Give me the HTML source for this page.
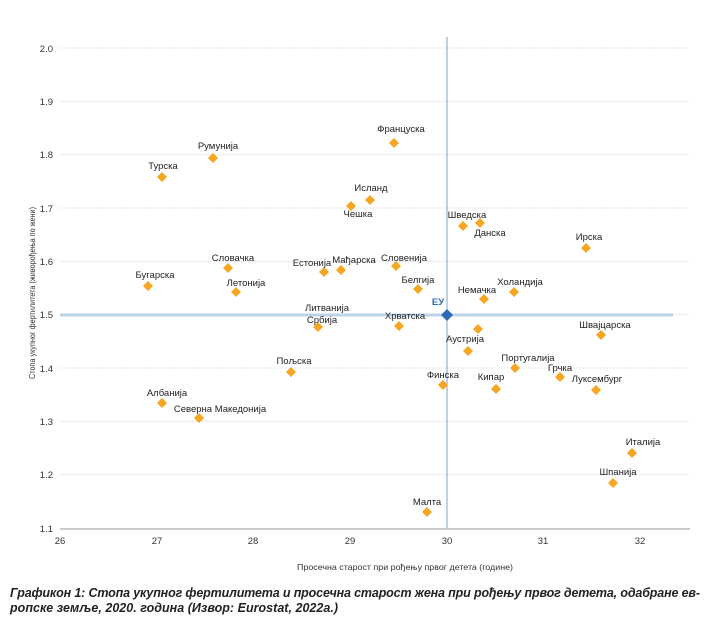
<!DOCTYPE html>
<html><head><meta charset="utf-8"><style>
html,body{margin:0;padding:0;background:#fff;}
svg{display:block;font-family:"Liberation Sans",Arial,sans-serif;}
.t{font-size:9.5px;fill:#222;text-anchor:middle;}
.tk{font-size:9.5px;fill:#333;}
.cap{font-size:12.5px;font-style:italic;font-weight:bold;fill:#222;}
</style></head><body>
<svg width="718" height="628" viewBox="0 0 718 628" xmlns="http://www.w3.org/2000/svg">
<defs><path id="d" d="M0,-5 L5,0 L0,5 L-5,0 Z" fill="#f5a623"/></defs>
<g stroke="#e0e0e0" stroke-width="0.8" stroke-dasharray="2,1">
<line x1="60" y1="48" x2="690" y2="48"/><line x1="60" y1="101.3" x2="690" y2="101.3"/>
<line x1="60" y1="154.7" x2="690" y2="154.7"/><line x1="60" y1="208" x2="690" y2="208"/>
<line x1="60" y1="261.3" x2="690" y2="261.3"/><line x1="60" y1="314.7" x2="690" y2="314.7"/>
<line x1="60" y1="368" x2="690" y2="368"/><line x1="60" y1="421.3" x2="690" y2="421.3"/>
<line x1="60" y1="474.7" x2="690" y2="474.7"/>
</g>
<line x1="60" y1="529" x2="690" y2="529" stroke="#999" stroke-width="1"/>
<line x1="60" y1="315" x2="673" y2="315" stroke="#bcd3e8" stroke-width="3"/>
<line x1="447" y1="37" x2="447" y2="528" stroke="#7fa3cc" stroke-width="1"/>
<g class="tk" text-anchor="end">
<text x="53" y="52">2.0</text><text x="53" y="105">1.9</text><text x="53" y="158">1.8</text>
<text x="53" y="212">1.7</text><text x="53" y="265">1.6</text><text x="53" y="318">1.5</text>
<text x="53" y="372">1.4</text><text x="53" y="425">1.3</text><text x="53" y="478">1.2</text>
<text x="53" y="532">1.1</text>
</g>
<g class="tk" text-anchor="middle">
<text x="60" y="544">26</text><text x="157" y="544">27</text><text x="253" y="544">28</text>
<text x="350" y="544">29</text><text x="447" y="544">30</text><text x="543" y="544">31</text>
<text x="640" y="544">32</text>
</g>
<text x="405" y="570" class="tk" text-anchor="middle" style="font-size:8.5px" textLength="216" lengthAdjust="spacingAndGlyphs">Просечна старост при рођењу првог детета (године)</text>
<text transform="translate(35,293) rotate(-90)" class="tk" text-anchor="middle" style="font-size:8px" textLength="172" lengthAdjust="spacingAndGlyphs">Стопа укупног фертилитета (живорођења по жени)</text>
<g>
<use href="#d" x="162" y="177"/><use href="#d" x="213" y="158"/><use href="#d" x="394" y="143"/>
<use href="#d" x="370" y="200"/><use href="#d" x="351" y="206"/><use href="#d" x="463" y="226"/>
<use href="#d" x="480" y="223"/><use href="#d" x="586" y="248"/><use href="#d" x="148" y="286"/>
<use href="#d" x="228" y="268"/><use href="#d" x="236" y="292"/><use href="#d" x="324" y="272"/>
<use href="#d" x="341" y="270"/><use href="#d" x="396" y="266"/><use href="#d" x="418" y="289"/>
<use href="#d" x="484" y="299"/><use href="#d" x="514" y="292"/><use href="#d" x="318" y="327"/>
<use href="#d" x="399" y="326"/><use href="#d" x="478" y="329"/><use href="#d" x="468" y="351"/>
<use href="#d" x="601" y="335"/><use href="#d" x="291" y="372"/><use href="#d" x="515" y="368"/>
<use href="#d" x="443" y="385"/><use href="#d" x="496" y="389"/><use href="#d" x="560" y="377"/>
<use href="#d" x="596" y="390"/><use href="#d" x="162" y="403"/><use href="#d" x="199" y="418"/>
<use href="#d" x="632" y="453"/><use href="#d" x="613" y="483"/><use href="#d" x="427" y="512"/>
</g>
<path d="M447,309 L453,315 L447,321 L441,315 Z" fill="#2a6db5"/>
<text x="438" y="305" style="font-size:9.5px;font-weight:bold;fill:#2a6db5" text-anchor="middle">ЕУ</text>
<g class="t">
<text x="163" y="169">Турска</text><text x="218" y="149">Румунија</text><text x="401" y="132">Француска</text>
<text x="371" y="191">Исланд</text><text x="358" y="217">Чешка</text><text x="467" y="218">Шведска</text>
<text x="490" y="236">Данска</text><text x="589" y="240">Ирска</text><text x="155" y="278">Бугарска</text>
<text x="233" y="261">Словачка</text><text x="246" y="286">Летонија</text><text x="312" y="266">Естонија</text>
<text x="354" y="263">Мађарска</text><text x="404" y="261">Словенија</text><text x="418" y="283">Белгија</text>
<text x="477" y="293">Немачка</text><text x="520" y="285">Холандија</text><text x="327" y="311">Литванија</text>
<text x="322" y="323">Србија</text><text x="405" y="319">Хрватска</text><text x="465" y="342">Аустрија</text>
<text x="605" y="328">Швајцарска</text><text x="294" y="364">Пољска</text><text x="528" y="361">Португалија</text>
<text x="443" y="378">Финска</text><text x="491" y="380">Кипар</text><text x="560" y="371">Грчка</text>
<text x="597" y="382">Луксембург</text><text x="167" y="396">Албанија</text><text x="220" y="412">Северна Македонија</text>
<text x="643" y="445">Италија</text><text x="618" y="475">Шпанија</text><text x="427" y="505">Малта</text>
</g>
<text x="10" y="597" class="cap" textLength="690" lengthAdjust="spacing">Графикон 1: Стопа укупног фертилитета и просечна старост жена при рођењу првог детета, одабране ев-</text>
<text x="10" y="612" class="cap" textLength="328" lengthAdjust="spacing">ропске земље, 2020. година (Извор: Eurostat, 2022a.)</text>
</svg>
</body></html>
